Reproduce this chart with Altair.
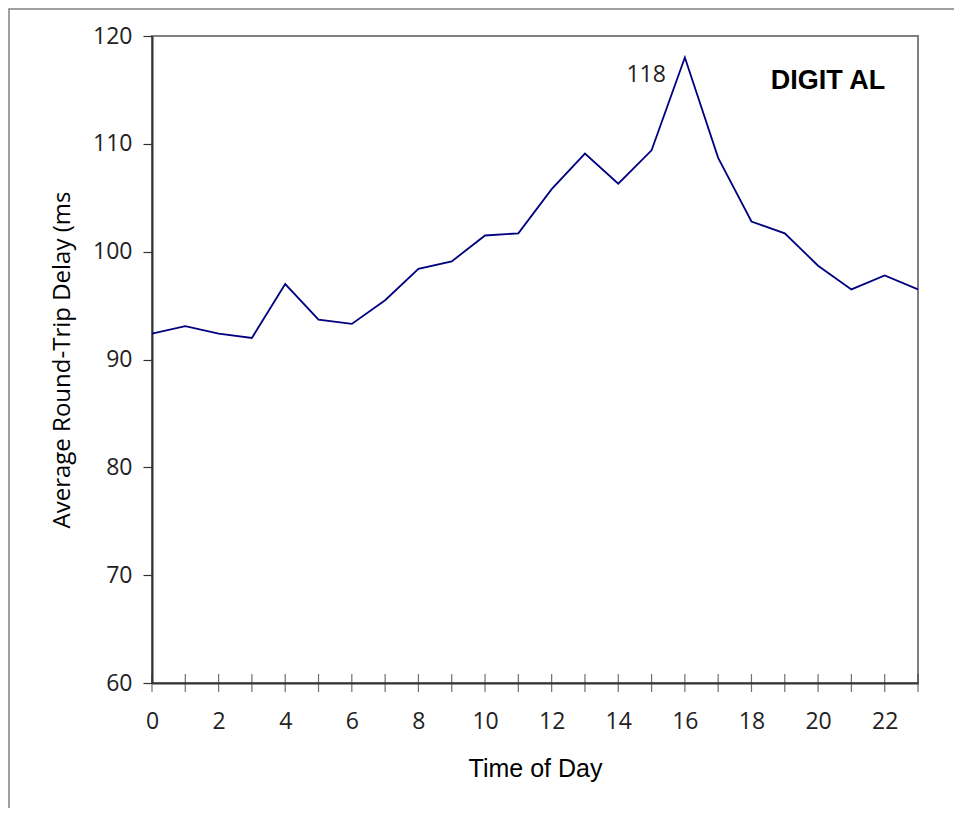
import altair as alt
import pandas as pd

hours = list(range(24))
delay = [92.4, 93.1, 92.4, 92.0, 97.0, 93.7, 93.3, 95.5, 98.4, 99.1, 101.5, 101.7,
         105.8, 109.1, 106.3, 109.4, 118.0, 108.7, 102.8, 101.7, 98.7, 96.5, 97.8, 96.5]
x_labels = list(range(0, 24, 2))
y_ticks = [60, 70, 80, 90, 100, 110, 120]

df = pd.DataFrame({"hour": hours, "delay": delay})
peak = pd.DataFrame({"hour": [16], "delay": [118.0], "label": ["118"]})
tag = pd.DataFrame({"hour": [20.3], "delay": [115.1], "label": ["DIGIT AL"]})
one = pd.DataFrame({"a": [0]})

FONT = "Open Sans"
xs = alt.Scale(domain=[0, 23], nice=False, zero=False)
ys = alt.Scale(domain=[60, 120], nice=False, zero=False)

frame = alt.Chart(one).mark_rect(fill=None, stroke="#808080", strokeWidth=1.5).encode(
    x=alt.value(-143), x2=alt.value(900), y=alt.value(-27), y2=alt.value(900)
)

line = alt.Chart(df).mark_line(color="#000080", strokeWidth=1.8).encode(
    x=alt.X("hour:Q", scale=xs, axis=alt.Axis(
        title="Time of Day", values=x_labels, ticks=False, labelPadding=27,
        labelFont=FONT, labelFontSize=23, labelColor="#222", labelFlush=False,
        titleFont="Liberation Sans", titleFontSize=25, titleFontWeight="normal",
        titleColor="#000", titlePadding=23,
        domainColor="#333", domainWidth=2, grid=False)),
    y=alt.Y("delay:Q", scale=ys, axis=alt.Axis(
        title="Average Round-Trip Delay (ms", values=y_ticks, tickSize=9,
        tickColor="#333", tickWidth=1.2, labelPadding=11,
        labelFont=FONT, labelFontSize=23, labelColor="#222", labelFlush=False,
        titleFont=FONT, titleFontSize=24, titleFontWeight="normal",
        titleColor="#000", titlePadding=18,
        domainColor="#333", domainWidth=2, grid=False)),
)

ticks = alt.Chart(df).mark_tick(orient="vertical", size=18, thickness=1.2, color="#333").encode(
    x=alt.X("hour:Q", scale=xs), y=alt.datum(60)
)

peak_text = alt.Chart(peak).mark_text(
    align="right", baseline="alphabetic", dx=-19, dy=24, font=FONT, fontSize=23, color="#222"
).encode(x=alt.X("hour:Q", scale=xs), y=alt.Y("delay:Q", scale=ys), text="label:N")

tag_text = alt.Chart(tag).mark_text(
    align="center", baseline="alphabetic", font="Liberation Sans", fontSize=27,
    fontWeight="bold", color="#000"
).encode(x=alt.X("hour:Q", scale=xs), y=alt.Y("delay:Q", scale=ys), text="label:N")

chart = alt.layer(frame, line, ticks, peak_text, tag_text).properties(
    width=766, height=647,
    autosize=alt.AutoSizeParams(type="none"),
    padding={"left": 144, "top": 28, "right": 36, "bottom": 125},
).configure_view(stroke="#808080", strokeWidth=2)

chart.save("out.html", embed_options={"renderer": "svg", "actions": False})
